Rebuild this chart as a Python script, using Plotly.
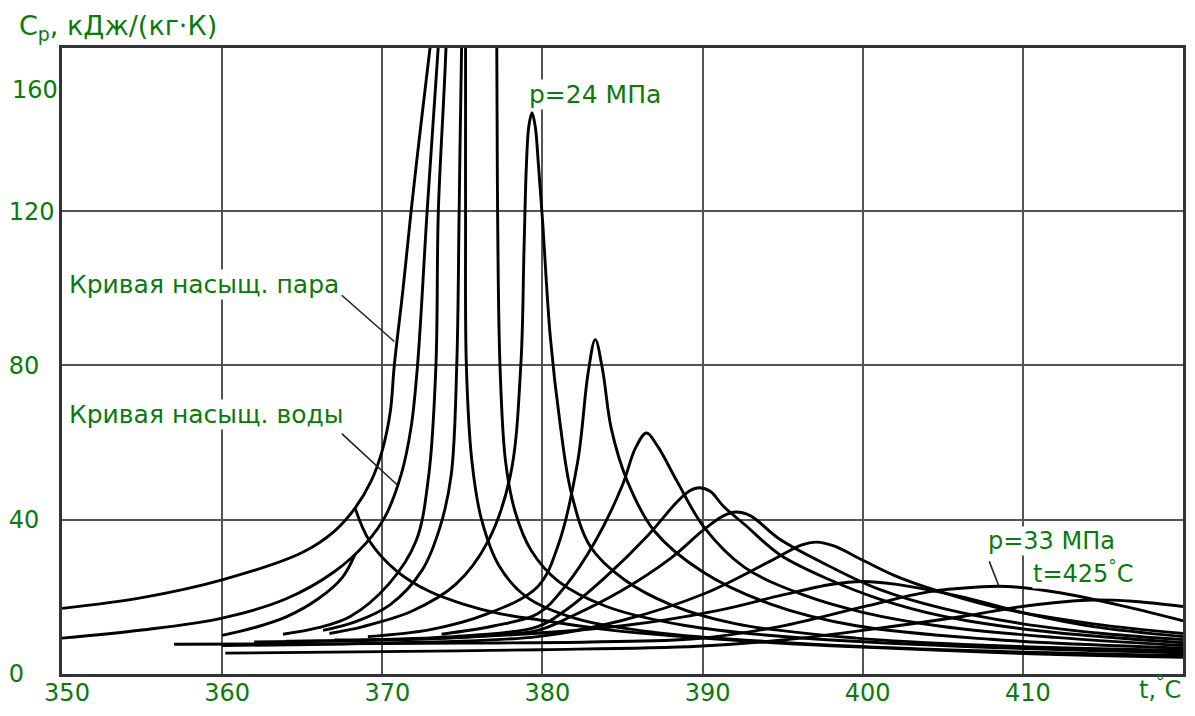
import plotly.graph_objects as go

# saturation curves (t in degC, cp in kJ/(kg K))
sat_steam_t = [350, 355, 360, 365, 367, 368.3, 369.3, 370.0, 370.5, 370.75, 371.3, 371.8, 372.4, 373.0]
sat_steam_cp = [17, 19.8, 24.4, 31.5, 37, 43, 50, 58, 68, 80, 100, 120, 142, 163]
sat_water_t = [350, 355, 360, 364, 367, 369, 370.2, 371.2, 371.8, 372.2, 372.8, 373.5]
sat_water_cp = [9.3, 11.4, 14.5, 19.5, 26.5, 34, 41, 52, 64, 80, 120, 163]

# subcritical isobar: liquid and vapour branches
p21_liq_t = [360, 362, 364, 366, 367.5, 368.3]
p21_liq_cp = [10, 12, 14.8, 19.5, 25, 31]
p21_vap_t = [368.3, 369.2, 370.9, 372.9, 375, 377.4, 380.2, 384, 390, 398, 408, 420]
p21_vap_cp = [43, 34.5, 26.7, 21.5, 18.2, 15.6, 13.8, 11.5, 9.3, 7.3, 5.6, 4.3]

# supercritical isobars
p225_t = [363.8, 366, 368, 370.4, 372.1, 372.9, 373.35, 373.5, 374.0, 374.3, 374.7, 375.05, 375.2, 375.2, 375.25,
          375.6, 376.2, 377.3, 379, 382, 387, 395, 405, 420]
p225_cp = [10.3, 12, 14.9, 23.3, 34.4, 51.5, 80, 120, 165, 230, 260, 230, 165, 120, 80,
           55, 40, 28, 20, 14.5, 10.8, 8.2, 6.3, 4.8]
p23_t = [366.3, 368.3, 370.5, 372.5, 373.6, 374.3, 374.65, 374.8, 374.95, 375.5, 376.2, 376.9, 377.15, 377.2, 377.35,
         377.7, 378.3, 379.3, 381, 384, 389, 396, 406, 420]
p23_cp = [11.3, 13.5, 18, 27, 38, 51.5, 80, 120, 162, 240, 270, 230, 162, 120, 80,
          55, 42, 32, 24, 17.5, 12.5, 9.4, 7.2, 5.5]
p24_t = [366.7, 368.8, 371.9, 374.6, 376.6, 378, 378.65, 378.85, 379.0, 379.15, 379.35, 379.55, 379.75, 380.0,
         380.5, 381.1, 381.8, 383.0, 385.1, 388, 392.1, 399.6, 408, 420]
p24_cp = [10.5, 12.3, 16.4, 23.3, 34.4, 51.5, 80, 110, 132, 142, 145.5, 142, 132, 118,
          87, 65, 47, 33, 24.5, 18, 13, 9.3, 7.4, 6.1]
p25_t = [369.1, 373, 376.5, 379.7, 381, 382.2, 382.85, 383.3, 383.75, 384.3, 385.3, 387, 390, 394.2, 399.6, 408, 420]
p25_cp = [9.7, 11.5, 15.5, 22.6, 33.6, 55, 78, 86.7, 79, 63.6, 50, 37, 26.5, 18.2, 12.5, 9.0, 6.7]
p26_t = [373.7, 377, 379.7, 381.4, 383.3, 385.0, 385.8, 386.5, 387.2, 388.4, 390.1, 392.6, 396.3, 400, 405, 412, 420]
p26_cp = [10.3, 12.5, 15.6, 22.6, 34.4, 49, 58.5, 62.5, 59, 50, 38, 27.7, 20.5, 16, 12.3, 9.5, 7.4]
p27_t = [367, 374, 379.7, 381.4, 383.9, 386.6, 388.4, 389.2, 389.8, 390.5, 391.3, 392.7, 394.8, 397.9, 401, 405, 411, 420]
p27_cp = [8.8, 9.6, 12.3, 16.4, 25, 36, 44.6, 47.5, 48.3, 47.3, 43.5, 38.5, 31, 24.5, 19.5, 15, 11.2, 8.1]
p28_t = [362, 370, 376, 379.7, 381.8, 384.9, 388, 390.1, 391.3, 392.1, 393, 394.8, 397.9, 401, 405, 410, 415, 420]
p28_cp = [8.3, 8.8, 9.8, 11.3, 14.9, 21.5, 30, 37.5, 41, 42, 41, 35, 28, 22, 17, 13, 10.5, 8.9]
p30_t = [360, 370, 379.7, 384.9, 390.1, 394.2, 396.2, 397.1, 398.2, 400, 402, 404.1, 408.2, 414.4, 420]
p30_cp = [7.4, 8, 9.7, 13.8, 20.8, 29.2, 33.5, 34.2, 33.2, 29.5, 25.5, 22.3, 17.4, 13, 10.5]
p31_t = [364, 375, 385, 391, 395, 398, 400, 402, 406.2, 410.3, 414.4, 420]
p31_cp = [8.5, 9.5, 12.5, 16.5, 20.5, 23.2, 24, 23.3, 20, 15.6, 12.3, 9.7]
p33_t = [357, 365, 375, 383, 389.7, 394.8, 400, 404.1, 407, 409, 412.4, 416.5, 420]
p33_cp = [7.7, 7.8, 8.0, 8.3, 9.2, 12.3, 17.4, 21.3, 22.5, 22.7, 21, 17.4, 13.8]
p35_t = [360.2, 370, 380, 389.7, 395, 400, 406.2, 410.3, 414.4, 417, 420]
p35_cp = [5.4, 5.8, 6.3, 7.2, 8.8, 11.3, 14.9, 17.7, 19.2, 18.8, 17.5]

curves = [
    (sat_steam_t, sat_steam_cp), (sat_water_t, sat_water_cp),
    (p21_liq_t, p21_liq_cp), (p21_vap_t, p21_vap_cp),
    (p225_t, p225_cp), (p23_t, p23_cp), (p24_t, p24_cp), (p25_t, p25_cp),
    (p26_t, p26_cp), (p27_t, p27_cp), (p28_t, p28_cp), (p30_t, p30_cp),
    (p31_t, p31_cp), (p33_t, p33_cp), (p35_t, p35_cp),
]

x_ticks = [350, 360, 370, 380, 390, 400, 410]
y_ticks = [0, 40, 80, 120]
# figure spaces keep the y labels flush left, as in the original
y_ticktext = ["0\u2007\u2007", "40\u2007", "80\u2007", "120"]

GREEN = "#0b7a0b"
FONT = "DejaVu Sans"

fig = go.Figure()
for t, cp in curves:
    fig.add_trace(go.Scatter(x=t, y=cp, mode="lines", line=dict(color="black", width=2.9, shape="spline", smoothing=1.0),
                             hoverinfo="skip", showlegend=False))

# leader lines for the labels
for x0, y0, x1, y1 in [(367.47, 98.2, 370.75, 86.2), (367.47, 62.3, 370.94, 49.0), (407.9, 29.2, 408.5, 22.8)]:
    fig.add_shape(type="line", x0=x0, y0=y0, x1=x1, y1=y1, line=dict(color="#222", width=1.6))

labels = [
    ("Кривая насыщ. пара", 350.37, 101, 25),
    ("Кривая насыщ. воды", 350.37, 67.4, 25),
    ("p=24 МПа", 379.12, 150.3, 25),
    ("p=33 МПа", 407.74, 34.4, 24),
    ("t=425<sup>°</sup>C", 410.59, 26.4, 24),
]
for text, x, y, size in labels:
    fig.add_annotation(x=x, y=y, text=text, showarrow=False, xanchor="left", yanchor="middle",
                       bgcolor="white", borderpad=0, font=dict(family=FONT, size=size, color=GREEN))

fig.add_annotation(xref="paper", x=-0.046, y=151.5, text="160", showarrow=False, xanchor="left",
                   yanchor="middle", font=dict(family=FONT, size=24, color=GREEN))
fig.add_annotation(xref="paper", yref="paper", x=-0.04, y=1.032, text="C<sub>p</sub>, кДж/(кг·К)", showarrow=False,
                   xanchor="left", yanchor="middle", font=dict(family=FONT, size=27, color=GREEN))
fig.add_annotation(xref="paper", yref="paper", x=1.0, y=-0.022, text="t,<sup>°</sup>C", showarrow=False,
                   xanchor="right", yanchor="middle", font=dict(family=FONT, size=24, color=GREEN))

fig.update_xaxes(range=[350, 420], tickvals=x_ticks, showgrid=True, gridcolor="#555", gridwidth=1.5,
                 showline=True, linecolor="#333", linewidth=2.5, mirror=True, zeroline=False,
                 ticklabelstandoff=-5, ticklabelshift=5,
                 tickfont=dict(family=FONT, size=24, color=GREEN))
fig.update_yaxes(range=[0, 162.3], tickvals=y_ticks, ticktext=y_ticktext, showgrid=True, gridcolor="#555",
                 gridwidth=1.5, showline=True, linecolor="#333", linewidth=2.5, mirror=True, zeroline=False,
                 tickfont=dict(family=FONT, size=24, color=GREEN))
fig.update_layout(width=1179, height=700, margin=dict(l=52, r=1, t=40, b=27),
                  plot_bgcolor="white", paper_bgcolor="white")
fig.write_html("out.html")
